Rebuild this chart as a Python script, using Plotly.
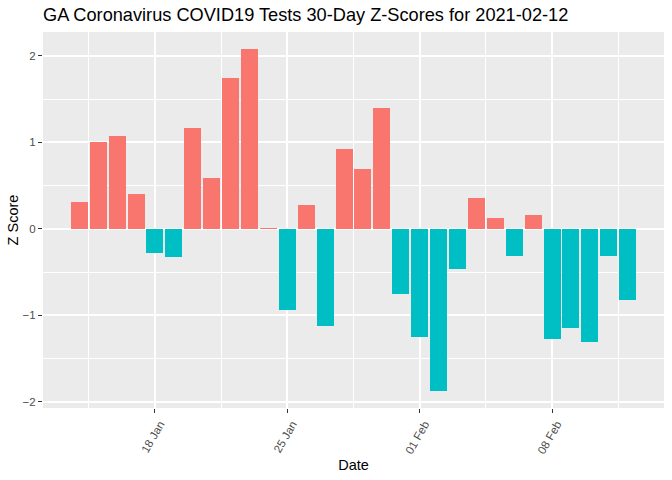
import plotly.graph_objects as go
import pandas as pd

dates = pd.date_range("2021-01-14", "2021-02-12", freq="D")
z_scores = [0.31, 1.01, 1.08, 0.40, -0.28, -0.32, 1.17, 0.59, 1.75, 2.08,
            0.01, -0.94, 0.28, -1.12, 0.92, 0.69, 1.40, -0.75, -1.25, -1.87,
            -0.46, 0.36, 0.13, -0.31, 0.16, -1.27, -1.15, -1.31, -0.31, -0.82]
tick_dates = ["2021-01-18", "2021-01-25", "2021-02-01", "2021-02-08"]
tick_labels = ["18 Jan", "25 Jan", "01 Feb", "08 Feb"]
y_ticks = [-2, -1, 0, 1, 2]

colors = ["#F8766D" if v >= 0 else "#00BFC4" for v in z_scores]
DAY = 86400000

fig = go.Figure(go.Bar(
    x=dates, y=z_scores, marker=dict(color=colors, line=dict(width=0)),
    width=0.9 * DAY, showlegend=False, hoverinfo="skip",
))

x0 = dates[0] - pd.Timedelta(hours=1.92 * 24)
x1 = dates[-1] + pd.Timedelta(hours=1.92 * 24)

fig.update_layout(
    width=672, height=480,
    margin=dict(l=43, r=8, t=32, b=72),
    paper_bgcolor="white", plot_bgcolor="#EBEBEB",
    font=dict(family="Liberation Sans, Arial", color="black"),
    title=dict(text="GA Coronavirus COVID19 Tests 30-Day Z-Scores for 2021-02-12",
               x=43 / 672, xanchor="left", y=1 - 15 / 480, yanchor="middle",
               font=dict(size=18.2, color="black")),
    bargap=0,
)
fig.update_xaxes(
    automargin=False,
    range=[x0, x1], tickvals=tick_dates, ticktext=tick_labels, tickangle=-60,
    tickfont=dict(size=11.5, color="#4D4D4D"), ticklabelshift=5,
    ticks="outside", ticklen=4, tickcolor="#333333", tickwidth=1,
    showgrid=True, gridcolor="white", gridwidth=1.8, zeroline=False,
    showline=False,
    minor=dict(tick0="2021-01-14 12:00", dtick=7 * DAY, showgrid=True,
               gridcolor="white", gridwidth=0.9, ticks="", ticklen=0,
               tickcolor="rgba(0,0,0,0)"),
    title=dict(text="Date", font=dict(size=14.5, color="black"), standoff=4),
)
fig.update_yaxes(
    automargin=False,
    range=[-2.07, 2.277], tickvals=y_ticks,
    tickfont=dict(size=11.5, color="#4D4D4D"),
    ticks="outside", ticklen=4, tickcolor="#333333", tickwidth=1,
    showgrid=True, gridcolor="white", gridwidth=1.8, zeroline=False,
    minor=dict(tick0=-1.5, dtick=1, showgrid=True, gridcolor="white",
               gridwidth=0.9, ticks="", ticklen=0, tickcolor="rgba(0,0,0,0)"),
    title=dict(text="Z Score", font=dict(size=14.5, color="black"), standoff=0),
)

fig.write_html("out.html", config={"displayModeBar": False},
               post_script="document.body.style.margin='0';")
